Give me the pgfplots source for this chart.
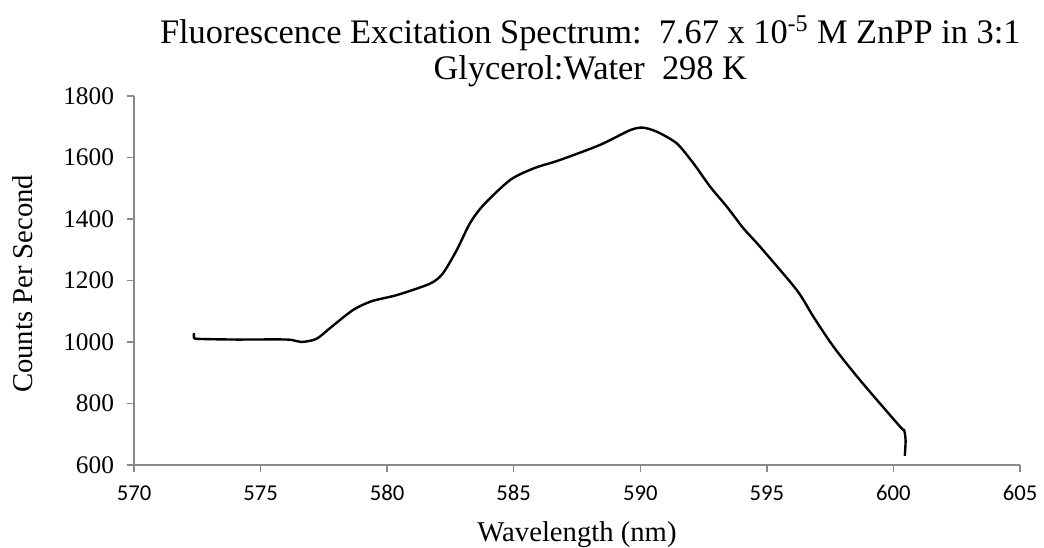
\documentclass[border=0pt]{standalone}
\usepackage{pgfplots}
\pgfplotsset{compat=1.18}
\usepackage{fontspec}
\setmainfont{Liberation Serif}
\newfontfamily\carlito{Carlito}
\definecolor{axgray}{HTML}{898989}
\begin{document}
\begin{tikzpicture}
\useasboundingbox (-100.5pt,-61.5pt) rectangle (682.5pt,348.75pt);
\begin{axis}[
  at={(0,0)}, anchor=south west,
  scale only axis,
  width=664.5pt, height=276.75pt,
  xmin=570, xmax=605, ymin=600, ymax=1800,
  xtick={570,575,...,605},
  ytick={600,800,...,1800},
  axis lines*=left,
  axis line style={axgray, line width=1.4pt},
  tick style={axgray, line width=1.1pt},
  tick align=outside,
  major tick length=5.5pt,
  /pgf/number format/assume math mode=true,
  /pgf/number format/1000 sep={},
  xticklabel style={font=\carlito\fontsize{17}{19}\selectfont, text height=10.8pt, text depth=0pt, yshift=-7pt},
  yticklabel style={font=\fontsize{19}{21}\selectfont, xshift=-6pt},
  xlabel={Wavelength (nm)},
  ylabel={Counts Per Second},
  xlabel style={font=\fontsize{21.5}{24}\selectfont, at={(axis description cs:0.5,0)}, anchor=north, yshift=-39pt},
  ylabel style={font=\fontsize{21.5}{24}\selectfont, at={(axis description cs:0,0.5)}, anchor=center, yshift=83.6pt, xshift=-2.5pt},
  title style={font=\fontsize{25.8}{27.4}\selectfont, align=center, at={(0.5,1)}, anchor=south, yshift=-3pt, xshift=10pt},
  title={Fluorescence Excitation Spectrum:\ \ 7.67 x 10\textsuperscript{-5} M ZnPP in 3:1\\Glycerol:Water\ \ 298 K},
  clip=false,
]
\addplot[black, line width=1.8pt, smooth, tension=0.45] coordinates {
(572.37,1029)
(572.38,1013)
(572.6,1010)
(574.0,1008)
(576.05,1008)
(576.6,1000)
(577.2,1010)
(577.74,1045)
(578.65,1104)
(579.4,1133)
(580.4,1153)
(581.7,1190)
(582.2,1223)
(582.75,1299)
(583.27,1386)
(583.8,1445)
(584.86,1527)
(585.8,1565)
(586.83,1592)
(588.41,1641)
(589.6,1689)
(590.1,1697)
(590.65,1684)
(591.44,1646)
(592.1,1581)
(592.76,1505)
(593.42,1440)
(594.07,1370)
(594.73,1310)
(596.18,1169)
(596.84,1082)
(597.63,985)
(598.68,876)
(600.26,725)
(600.42,714)
(600.48,680)
(600.45,630)
};
\end{axis}
\end{tikzpicture}
\end{document}
